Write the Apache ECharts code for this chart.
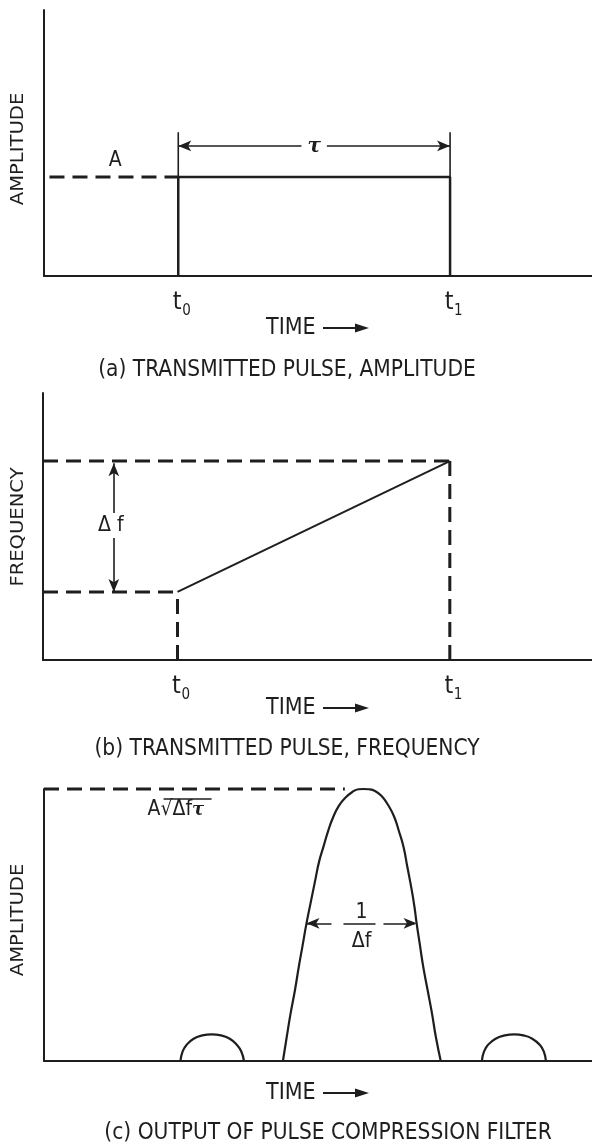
<!DOCTYPE html>
<html>
<head>
<meta charset="utf-8">
<script src="https://cdn.jsdelivr.net/npm/echarts@6/dist/echarts.min.js"></script>
<style>
html, body { margin: 0; padding: 0; background: #fff; }
#main { width: 592px; height: 1147px; }
</style>
</head>
<body>
<div id="main"></div>
<script>
// axis units: time 0..100 across each panel, amplitude / frequency 0..100
var timeMarks = [24.5, 74.1];      // t0, t1
var timeSubs = ['0', '1'];
var pulseAmp = 37.2;               // level A
var tauArrowY = 48.9;
var tauTickTop = 54;

var freqLow = 25.5;
var freqHigh = 74.5;
var deltaFX = 12.9;
var deltaFGap = [45.7, 55.1];

// compressed pulse (c)
var mainLobeX = [43.6, 44.3, 45.0, 45.8, 46.5, 47.2, 47.9, 48.7, 49.5, 50.2, 51.0, 51.9, 52.8, 53.8, 54.9, 56.2, 57.4, 58.3,
                 59.2, 60.4, 61.6, 62.8, 63.9, 64.8, 65.6, 66.3, 67.1, 67.6, 68.0, 68.6, 69.2, 70.0, 70.8, 71.5, 72.4];
var mainLobeY = [0, 8.9, 17.5, 26.1, 34.7, 42.6, 50.6, 58.6, 66.5, 73.3, 78.8, 84.9, 89.8, 93.8, 96.6, 98.8, 99.9, 100,
                 99.9, 99.3, 97.4, 94.1, 89.8, 84.3, 78.8, 71.4, 62.9, 56.7, 50.6, 42.6, 34.7, 26.1, 17.5, 8.9, 0];
var sideLobeLeftX = [24.9, 25.3, 26.0, 27.3, 28.9, 30.6, 32.3, 33.9, 35.2, 36.0, 36.5];
var sideLobeRightX = [79.9, 80.3, 81.0, 82.4, 84.1, 85.8, 87.5, 89.1, 90.5, 91.2, 91.6];
var sideLobeY = [0, 3.5, 5.9, 8.2, 9.4, 9.8, 9.4, 8.2, 5.9, 3.5, 0];
var peakDashEnd = 54.9;
var widthArrowX = [47.9, 68.0];
var widthArrowY = 50.6;

var axisTitles = ['AMPLITUDE', 'FREQUENCY', 'AMPLITUDE'];
var captions = ['(a) TRANSMITTED PULSE, AMPLITUDE', '(b) TRANSMITTED PULSE, FREQUENCY', '(c) OUTPUT OF PULSE COMPRESSION FILTER'];

var INK = '#1e1e1e';
var FONT = '"Liberation Sans Narrow", "DejaVu Sans Condensed", "Liberation Sans", sans-serif';
var DASH = [15, 8];

function zip(xs, ys) {
    var out = [];
    for (var i = 0; i < xs.length; i++) out.push([xs[i], ys[i]]);
    return out;
}

function makeAxes(idx) {
    return {
        x: {
            type: 'value', gridIndex: idx, min: 0, max: 100,
            axisLine: { lineStyle: { color: INK, width: 2 } },
            axisTick: { show: false }, axisLabel: { show: false }, splitLine: { show: false }
        },
        y: {
            type: 'value', gridIndex: idx, min: 0, max: 100,
            axisLine: { show: true, lineStyle: { color: INK, width: 2 } },
            axisTick: { show: false }, axisLabel: { show: false }, splitLine: { show: false }
        }
    };
}

function seg(idx, pts, dashed, width) {
    return {
        type: 'line', xAxisIndex: idx, yAxisIndex: idx, data: pts,
        showSymbol: false, symbol: 'none', silent: true, clip: false,
        lineStyle: { color: INK, width: width || 2, type: dashed ? DASH : 'solid', cap: 'butt' }
    };
}

function arrowLine(from, to, syms, label, lineType) {
    return {
        symbol: syms, symbolSize: [8, 13],
        lineStyle: { color: INK, width: 1.6, type: lineType || 'solid' },
        label: label || { show: false },
        data: [[{ coord: from }, { coord: to }]]
    };
}

var axes = [makeAxes(0), makeAxes(1), makeAxes(2)];
var t0 = timeMarks[0], t1 = timeMarks[1];

var series = [];
// (a) rectangular pulse
series.push(seg(0, [[t0, 0], [t0, pulseAmp], [t1, pulseAmp], [t1, 0]], false, 2.5));
series.push(seg(0, [[1, pulseAmp], [t0, pulseAmp]], true, 3));
series.push(seg(0, [[t0, pulseAmp], [t0, tauTickTop]], false, 1.6));
var tauSeg = seg(0, [[t1, pulseAmp], [t1, tauTickTop]], false, 1.6);
tauSeg.markLine = Object.assign({ silent: true, animation: false }, arrowLine([t0, tauArrowY], [t1, tauArrowY], ['arrow', 'arrow'], {
    show: true, position: 'middle', formatter: 'τ', color: INK,
    fontFamily: 'DejaVu Serif', fontStyle: 'italic', fontWeight: 'bold', fontSize: 20,
    backgroundColor: '#fff', padding: [0, 6, 0, 6], distance: 0, offset: [0, 11]
}));
series.push(tauSeg);

// (b) linear chirp
series.push(seg(1, [[t0, freqLow], [t1, freqHigh]], false, 2));
series.push(seg(1, [[0, freqHigh], [t1, freqHigh]], true, 3));
series.push(seg(1, [[0, freqLow], [t0, freqLow]], true, 3));
series.push(seg(1, [[t0, 0], [t0, freqLow]], true, 3));
var dfSeg = seg(1, [[t1, 0], [t1, freqHigh]], true, 3);
dfSeg.markLine = {
    silent: true, animation: false, symbol: ['none', 'arrow'], symbolSize: [8, 13],
    lineStyle: { color: INK, width: 1.6, type: 'solid' }, label: { show: false },
    data: [
        [{ coord: [deltaFX, deltaFGap[1]] }, { coord: [deltaFX, freqHigh - 0.8] }],
        [{ coord: [deltaFX, deltaFGap[0]] }, { coord: [deltaFX, freqLow] }]
    ]
};
series.push(dfSeg);

// (c) compression filter output
var lobe = seg(2, zip(mainLobeX, mainLobeY), false, 2.2);
lobe.smooth = 0.5;
lobe.markLine = Object.assign({ silent: true, animation: false }, arrowLine(
    [widthArrowX[0], widthArrowY], [widthArrowX[1], widthArrowY], ['arrow', 'arrow'], {
        show: true, position: 'middle', formatter: '1\nΔf', color: INK,
        fontFamily: FONT, fontSize: 21, lineHeight: 29, distance: 0, offset: [0, 33]
    }, [25, 12, 32, 8, 31]));
series.push(lobe);
var sl = seg(2, zip(sideLobeLeftX, sideLobeY), false, 2.2); sl.smooth = 0.5; series.push(sl);
var sr = seg(2, zip(sideLobeRightX, sideLobeY), false, 2.2); sr.smooth = 0.5; series.push(sr);
series.push(seg(2, [[0, 100], [peakDashEnd, 100]], true, 3));

var option = {
    backgroundColor: '#fff',
    animation: false,
    grid: [
        { left: 44, top: 10, width: 548, height: 266 },
        { left: 43, top: 393, width: 549, height: 267 },
        { left: 44, top: 789, width: 548, height: 272 }
    ],
    xAxis: axes.map(function (a) { return a.x; }),
    yAxis: axes.map(function (a) { return a.y; }),
    series: series
};

var chart = echarts.init(document.getElementById('main'));
chart.setOption(option);

function px(g, x, y) { return chart.convertToPixel({ gridIndex: g }, [x, y]); }
function txt(x, y, s, size, align, extra) {
    var st = { text: s, fill: INK, fontFamily: FONT, fontSize: size, align: align || 'center', verticalAlign: 'middle' };
    if (extra) Object.assign(st, extra);
    return { type: 'text', x: x, y: y, silent: true, style: st };
}

var graphics = [];
// axis titles, rotated and a little stretched like the drawing
var titleY = [149, 527, 920];
axisTitles.forEach(function (s, i) {
    var t = txt(19, titleY[i], s, 17, 'center');
    t.rotation = Math.PI / 2;
    t.scaleX = 1.28;
    graphics.push(t);
});

// t0 / t1 under panels a and b
[0, 1].forEach(function (g) {
    timeMarks.forEach(function (t, i) {
        var p = px(g, t, 0);
        graphics.push(txt(p[0] - 1, p[1] + 26, 't', 25, 'center'));
        graphics.push(txt(p[0] + 4, p[1] + 35, timeSubs[i], 15, 'left'));
    });
});

// TIME -> labels
var timeRows = [328, 708, 1093];
timeRows.forEach(function (y) {
    graphics.push(txt(266, y, 'TIME', 23, 'left'));
    graphics.push({ type: 'line', silent: true, shape: { x1: 323, y1: y, x2: 358, y2: y }, style: { stroke: INK, lineWidth: 2 } });
    graphics.push({ type: 'polygon', silent: true, shape: { points: [[355, y - 4.5], [369, y], [355, y + 4.5]] }, style: { fill: INK } });
});

// captions
var capRows = [[287, 370], [287, 749], [328, 1133]];
captions.forEach(function (c, i) {
    graphics.push(txt(capRows[i][0], capRows[i][1], c, 22.5, 'center'));
});

// level A
var pa = px(0, 13, pulseAmp);
graphics.push(txt(pa[0], pa[1] - 17, 'A', 21, 'center'));

// delta f label
var pf = px(1, deltaFX, (deltaFGap[0] + deltaFGap[1]) / 2);
graphics.push(txt(pf[0] - 3, pf[1], 'Δ f', 21, 'center'));

// peak value A sqrt(df tau)
var pk = px(2, 18.9, 100);
graphics.push({
    type: 'text', x: pk[0], y: pk[1] + 21, silent: true,
    style: {
        text: '{a|A√}{b|Δf}{c|τ}', fill: INK, align: 'left', verticalAlign: 'middle',
        rich: {
            a: { fontFamily: FONT, fontSize: 21, fill: INK },
            b: { fontFamily: FONT, fontSize: 21, fill: INK },
            c: { fontFamily: 'DejaVu Serif', fontStyle: 'italic', fontWeight: 'bold', fontSize: 18, fill: INK }
        }
    }
});
graphics.push({ type: 'line', silent: true, shape: { x1: pk[0] + 16, y1: pk[1] + 10, x2: pk[0] + 64, y2: pk[1] + 10 }, style: { stroke: INK, lineWidth: 1.3 } });

chart.setOption({ graphic: graphics });
</script>
</body>
</html>
